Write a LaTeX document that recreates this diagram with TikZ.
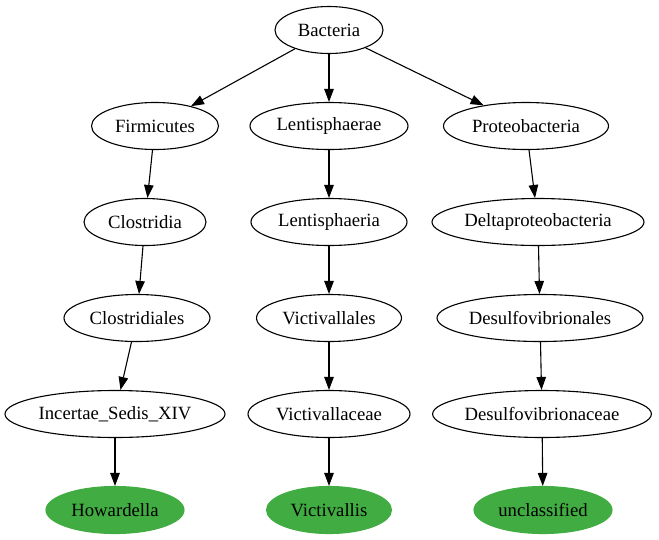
\documentclass[tikz,border=0pt]{standalone}
\usepackage{fontspec}
\setmainfont{Liberation Serif}
\usepackage{tikz}
\definecolor{mygreen}{RGB}{65,172,65}
\usetikzlibrary{arrows.meta, shapes.geometric}

\begin{document}
\begin{tikzpicture}[x=1pt, y=-1pt, >={Triangle[length=13pt,width=9.5pt]},   %Pfeilspitzen wie bei dot
					taxon/.style={draw, ellipse, line width=1.1pt, minimum height=47pt, inner sep=0pt, minimum width=#1},
					leaf/.style={taxon=#1, draw=mygreen, fill=mygreen},
					font=\fontsize{18.7}{21}\selectfont]
					\useasboundingbox (0,0) rectangle (659,539);
					% Wurzel
					\node[taxon=108pt] (bacteria) at (329,30) {Bacteria};
					% linker Ast
					\node[taxon=127pt] (firmicutes) at (155,126) {Firmicutes};
					\node[taxon=122pt] (clostridia) at (145,222) {Clostridia};
					\node[taxon=146pt] (clostridiales) at (137,318) {Clostridiales};
					\node[taxon=220pt] (incertae) at (115,414) {Incertae\_Sedis\_XIV};
					\node[leaf=138pt] (howardella) at (115,510) {Howardella};
					% mittlerer Ast
					\node[taxon=158pt] (lentisphaerae) at (329,126) {Lentisphaerae};
					\node[taxon=156pt] (lentisphaeria) at (329,222) {Lentisphaeria};
					\node[taxon=145pt] (victivallales) at (329,318) {Victivallales};
					\node[taxon=162pt] (victivallaceae) at (329,414) {Victivallaceae};
					\node[leaf=125pt] (victivallis) at (329,510) {Victivallis};
					% rechter Ast
					\node[taxon=165pt] (proteobacteria) at (526,126) {Proteobacteria};
					\node[taxon=212pt] (delta) at (538,222) {Deltaproteobacteria};
					\node[taxon=206pt] (desulfovibrionales) at (540,318) {Desulfovibrionales};
					\node[taxon=218pt] (desulfovibrionaceae) at (542,414) {Desulfovibrionaceae};
					\node[leaf=138pt] (unclassified) at (543,510) {unclassified};
					% Kanten
					\draw[->, line width=1.1pt] (bacteria) -- (firmicutes);
					\draw[->, line width=1.1pt] (bacteria) -- (lentisphaerae);
					\draw[->, line width=1.1pt] (bacteria) -- (proteobacteria);
					\draw[->, line width=1.1pt] (firmicutes) -- (clostridia);
					\draw[->, line width=1.1pt] (clostridia) -- (clostridiales);
					\draw[->, line width=1.1pt] (clostridiales) -- (incertae);
					\draw[->, line width=1.1pt] (incertae) -- (howardella);
					\draw[->, line width=1.1pt] (lentisphaerae) -- (lentisphaeria);
					\draw[->, line width=1.1pt] (lentisphaeria) -- (victivallales);
					\draw[->, line width=1.1pt] (victivallales) -- (victivallaceae);
					\draw[->, line width=1.1pt] (victivallaceae) -- (victivallis);
					\draw[->, line width=1.1pt] (proteobacteria) -- (delta);
					\draw[->, line width=1.1pt] (delta) -- (desulfovibrionales);
					\draw[->, line width=1.1pt] (desulfovibrionales) -- (desulfovibrionaceae);
					\draw[->, line width=1.1pt] (desulfovibrionaceae) -- (unclassified);
				\end{tikzpicture}
\end{document}
